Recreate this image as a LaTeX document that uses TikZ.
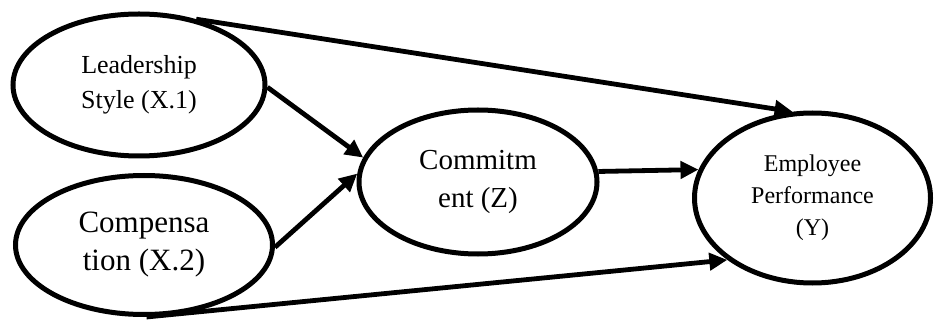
\documentclass[tikz,border=0pt]{standalone}
\usepackage{fontspec}
\setmainfont{Liberation Serif}
\usetikzlibrary{arrows.meta,shapes.geometric}
\begin{document}
\begin{tikzpicture}[x=1pt,y=1pt,
  var/.style={ellipse, draw=black, line width=5pt, inner sep=0pt, align=center, fill=white},
  link/.style={line width=4.8pt, -{Triangle[length=18pt,width=17pt]}}]
\useasboundingbox (0,0) rectangle (936,324);
% latent variables
\node[var, minimum width=252pt, minimum height=142pt, font=\fontsize{26}{35}\selectfont]
  (lead) at (139,239) {Leadership\\Style (X.1)};
\node[var, minimum width=257pt, minimum height=139pt, font=\fontsize{31}{38}\selectfont]
  (comp) at (144,79) {Compensa\\tion (X.2)};
\node[var, minimum width=238pt, minimum height=144pt, font=\fontsize{29}{38}\selectfont]
  (commit) at (478,142) {Commitm\\ent (Z)};
\node[var, minimum width=236pt, minimum height=170pt, font=\fontsize{24}{32}\selectfont]
  (emp) at (812.5,126) {Employee\\Performance\\(Y)};
% paths
\draw[link] (lead.49) -- (emp.103);
\draw[link] (lead.-1) -- (commit.168);
\draw[link] (comp.-1) -- (commit.176);
\draw[link] (commit.5) -- (emp.166);
\draw[link] (comp.-88) -- (emp.216);
\end{tikzpicture}
\end{document}
